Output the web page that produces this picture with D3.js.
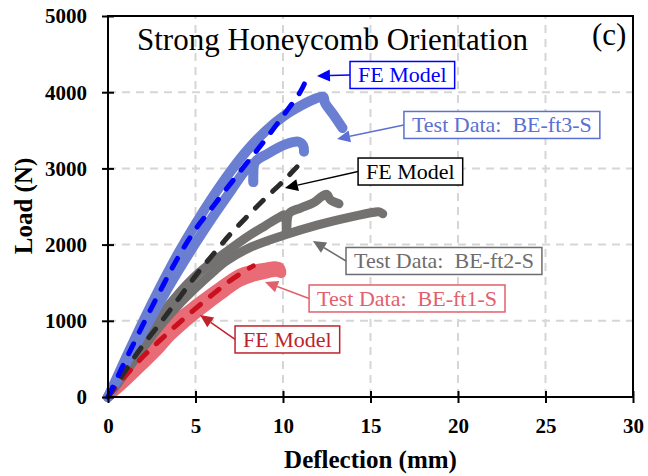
<!DOCTYPE html>
<html>
<head>
<meta charset="utf-8">
<script src="https://cdn.jsdelivr.net/npm/d3@7"></script>
<style>
  html, body { margin: 0; padding: 0; background: #fff; }
  svg { display: block; }
</style>
</head>
<body>
<svg id="chart" width="648" height="476"></svg>
<script>
// Axis ticks
const xTicks = [0, 5, 10, 15, 20, 25, 30];
const yTicks = [0, 1000, 2000, 3000, 4000, 5000];

// Test data, [deflection (mm), load (N)]
const ft1SpecimenA = [[0,0],[1,310],[2,580],[3,830],[3.54,960],[4.3,1090],[5.26,1260],[6.4,1450],[7.54,1620],[8.3,1670],[9.07,1700],[9.5,1715],[9.8,1700],[9.9,1650]];
const ft1SpecimenB = [[0,0],[1,200],[2,420],[3,650],[3.54,790],[4.3,950],[5.26,1130],[6.4,1330],[7.54,1510],[8.3,1580],[9.07,1620],[9.6,1645],[9.9,1625]];
const ft2SpecimenA = [[0,0],[1,390],[2,750],[3,1070],[4,1350],[5,1590],[6,1780],[6.8,1910],[7.5,2030],[8.2,2140],[9,2250],[9.8,2360],[10.1,2390],[10.2,2160],[10.35,2410],[11,2480],[11.75,2550],[12.2,2630],[12.5,2660],[12.7,2590],[13.2,2535]];
const ft2SpecimenB = [[0,0],[1,320],[2,640],[3,940],[4,1200],[5,1430],[6,1640],[6.8,1790],[8.1,1960],[10,2120],[12,2260],[13.9,2365],[15.2,2425],[15.5,2430],[15.7,2405]];
const ft3SpecimenA = [[0,0],[1,500],[2,990],[3,1450],[4,1880],[5,2270],[6,2630],[7,2960],[8,3250],[9,3490],[10,3680],[11,3820],[11.8,3910],[12.3,3940],[12.4,3860],[12.9,3700],[13.4,3530]];
const ft3SpecimenB = [[0,0],[1,430],[2,850],[3,1260],[4,1650],[5,2020],[6,2370],[7,2700],[7.9,2990],[8.25,3060],[8.3,2820],[8.4,3080],[9.1,3190],[10.2,3320],[10.9,3350],[11.15,3300],[11.2,3220]];

// Finite element predictions
const feRed   = [[0,0],[1,280],[2,530],[3,750],[4,960],[5,1160],[6,1350],[7,1530],[8,1680],[8.3,1720]];
const feBlack = [[0,0],[1,350],[2,680],[3,975],[4,1280],[5,1590],[6,1870],[7,2140],[8,2380],[9,2610],[10,2830],[10.8,3020]];
const feBlue  = [[0,0],[1,480],[2,950],[3,1400],[4,1830],[5,2200],[6,2500],[7,2800],[8,3090],[9,3380],[10,3690],[11,4010],[11.5,4260]];

// Callout labels
const calloutLabels = ["FE Model", "Test Data:  BE-ft3-S", "FE Model", "Test Data:  BE-ft2-S", "Test Data:  BE-ft1-S", "FE Model"];
// Arrow tips and label-box anchors (left edge, vertical centre), in data units
const calloutTips  = [[11.94,4213],[13.09,3386],[10.11,2743],[11.71,2047],[8.97,1509],[5.26,1076]];
const calloutBoxes = [[13.83,4226],[16.91,3570],[14.29,2959],[13.6,1785],[11.49,1293],[7.26,755]];
const calloutColors = ["#0000ff", "#5b70d2", "#000000", "#6e6c6c", "#e2606c", "#c0222c"];

const svg = d3.select("#chart");
const x = d3.scaleLinear().domain([0, 30]).range([108, 633]);
const y = d3.scaleLinear().domain([0, 5000]).range([397, 16]);
const serif = "'Liberation Serif', 'Times New Roman', serif";

svg.append("rect").attr("width", 648).attr("height", 476).attr("fill", "#fff");

// Grid
const grid = svg.append("g").attr("stroke", "#d6d6d6").attr("stroke-width", 2).attr("stroke-dasharray", "8,6");
grid.selectAll("line.v").data(xTicks.slice(1, -1)).join("line")
  .attr("x1", d => x(d)).attr("x2", d => x(d)).attr("y1", y(0)).attr("y2", y(5000));
grid.selectAll("line.h").data(yTicks.slice(1, -1)).join("line")
  .attr("y1", d => y(d)).attr("y2", d => y(d)).attr("x1", x(0)).attr("x2", x(30));

// Curves
const line = d3.line().x(d => x(d[0])).y(d => y(d[1])).curve(d3.curveCatmullRom.alpha(0.5));
const curves = svg.append("g").attr("fill", "none").attr("stroke-linecap", "round").attr("stroke-linejoin", "round");

const tests = [
  {data: ft1SpecimenB, color: "#e86b76", w: 10},
  {data: ft1SpecimenA, color: "#e86b76", w: 10},
  {data: ft2SpecimenB, color: "#747171", w: 9},
  {data: ft2SpecimenA, color: "#747171", w: 9},
  {data: ft3SpecimenB, color: "#6a7fd2", w: 10},
  {data: ft3SpecimenA, color: "#6a7fd2", w: 10}
];
tests.forEach(s => curves.append("path").attr("d", line(s.data)).attr("stroke", s.color).attr("stroke-width", s.w));

const models = [
  {data: feRed, color: "#c8101e"},
  {data: feBlack, color: "#2b2b2b"},
  {data: feBlue, color: "#0000ff"}
];
models.forEach(s => curves.append("path").attr("d", line(s.data)).attr("stroke", s.color)
  .attr("stroke-width", 5).attr("stroke-dasharray", "11,13"));

// Frame
svg.append("rect").attr("x", x(0)).attr("y", y(5000)).attr("width", x(30) - x(0)).attr("height", y(0) - y(5000))
  .attr("fill", "none").attr("stroke", "#000").attr("stroke-width", 2);

// Axes
const xAxis = svg.append("g").attr("transform", `translate(0,${y(0)})`)
  .call(d3.axisBottom(x).tickValues(xTicks).tickFormat(d3.format("d")).tickSize(6));
xAxis.select(".domain").remove();
xAxis.selectAll(".tick line").attr("y1", -6).attr("y2", 6).attr("stroke", "#000").attr("stroke-width", 2);
xAxis.selectAll(".tick text").attr("y", 36).attr("dy", 0)
  .attr("font-family", serif).attr("font-weight", "bold").attr("font-size", 21).attr("fill", "#000");

const yAxis = svg.append("g").attr("transform", `translate(${x(0)},0)`)
  .call(d3.axisLeft(y).tickValues(yTicks).tickFormat(d3.format("d")).tickSize(6));
yAxis.select(".domain").remove();
yAxis.selectAll(".tick line").attr("x1", -6).attr("x2", 6).attr("stroke", "#000").attr("stroke-width", 2);
yAxis.selectAll(".tick text").attr("x", -21).attr("dy", "0.33em")
  .attr("font-family", serif).attr("font-weight", "bold").attr("font-size", 21).attr("fill", "#000");

// Axis titles
svg.append("text").attr("x", (x(0) + x(30)) / 2).attr("y", 468).attr("text-anchor", "middle")
  .attr("font-family", serif).attr("font-weight", "bold").attr("font-size", 25).text("Deflection (mm)");
svg.append("text").attr("transform", "translate(32,206) rotate(-90)").attr("text-anchor", "middle")
  .attr("font-family", serif).attr("font-weight", "bold").attr("font-size", 25).text("Load (N)");

// Title and panel tag
svg.append("text").attr("x", 137).attr("y", 50).attr("font-family", serif).attr("font-size", 31).text("Strong Honeycomb Orientation");
svg.append("text").attr("x", 592).attr("y", 45).attr("font-family", serif).attr("font-size", 31).text("(c)");

// Callouts
const callouts = svg.append("g");
calloutLabels.forEach((label, i) => {
  const c = calloutColors[i];
  const g = callouts.append("g");
  const bx = x(calloutBoxes[i][0]), by = y(calloutBoxes[i][1]);
  const tx = x(calloutTips[i][0]), ty = y(calloutTips[i][1]);
  const pad = 8, h = 27;
  const box = g.append("rect").attr("fill", "#fff").attr("stroke", c).attr("stroke-width", 1.5);
  const t = g.append("text").attr("x", bx + pad).attr("y", by + 7.5)
    .attr("font-family", serif).attr("font-size", 22).attr("fill", c)
    .style("white-space", "pre").text(label);
  const tw = t.node().getComputedTextLength();
  box.attr("x", bx).attr("y", by - h / 2).attr("width", tw + 2 * pad).attr("height", h);
  // arrow shaft and head
  const ang = Math.atan2(ty - by, tx - bx);
  const len = 13, hw = 6;
  const baseX = tx - len * Math.cos(ang), baseY = ty - len * Math.sin(ang);
  g.append("line").attr("x1", bx).attr("y1", by).attr("x2", baseX).attr("y2", baseY)
    .attr("stroke", c).attr("stroke-width", 1.5);
  g.append("path").attr("fill", c).attr("d", d3.line()([
    [tx, ty],
    [baseX + hw * Math.sin(ang), baseY - hw * Math.cos(ang)],
    [baseX - hw * Math.sin(ang), baseY + hw * Math.cos(ang)]
  ]) + "Z");
});
</script>
</body>
</html>
